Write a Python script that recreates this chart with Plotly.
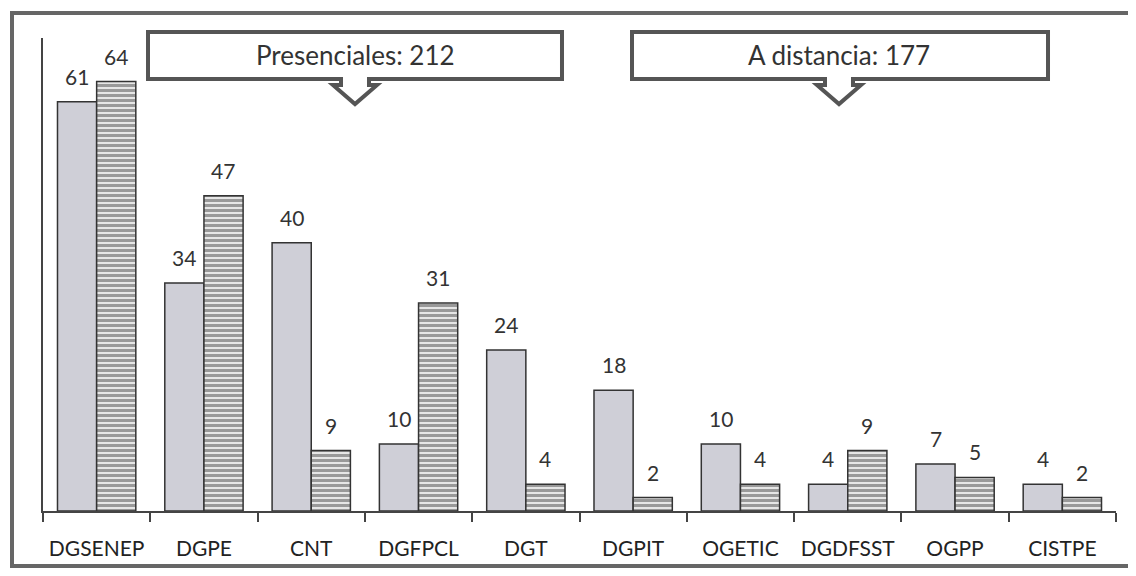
import plotly.graph_objects as go

categories = ["DGSENEP", "DGPE", "CNT", "DGFPCL", "DGT", "DGPIT", "OGETIC", "DGDFSST", "OGPP", "CISTPE"]
presenciales = [61, 34, 40, 10, 24, 18, 10, 4, 7, 4]
a_distancia = [64, 47, 9, 31, 4, 2, 4, 9, 5, 2]
callout_texts = ["Presenciales: 212", "A distancia: 177"]

# page body has an 8px margin: work in window pixels, convert to figure
OFF = 8
W, H = 1120, 560
ML, MT = 43 - OFF, 38 - OFF
PW = 1116 - 43
PH = 511 - 38
MR = W - ML - PW
MB = H - MT - PH

def px(x):
    return (x - OFF - ML) / PW

def py(y):
    return (MT + PH - (y - OFF)) / PH

FONT = "Lato"

fig = go.Figure()
fig.add_trace(go.Bar(
    x=categories, y=presenciales, name="Presenciales",
    marker=dict(color="#cfcfd7", line=dict(color="#333333", width=1.5)),
))
fig.add_trace(go.Bar(
    x=categories, y=a_distancia, name="A distancia",
    marker=dict(color="#ffffff",
                pattern=dict(shape="-", fgcolor="#333333", bgcolor="#ffffff", size=5, solidity=0.7),
                line=dict(color="#333333", width=1.5)),
))

annotations = []
for vals, shift in ((presenciales, -19.5), (a_distancia, 19.5)):
    for c, v in zip(categories, vals):
        annotations.append(dict(x=c, y=v, xref="x", yref="y", text=str(v), showarrow=False,
                                xanchor="center", yanchor="bottom", xshift=shift, yshift=11,
                                font=dict(size=21, color="#333333", family=FONT)))

shapes = []
shapes.append(dict(type="rect", xref="paper", yref="paper",
                   x0=px(12), x1=px(1150), y0=py(566), y1=py(13),
                   line=dict(color="#666666", width=4), fillcolor="rgba(0,0,0,0)", layer="below"))

def callout(x0, y0, x1, y1, cx, s=14, h=22, ds=6, dt=25):
    pts = [(x0, y0), (x1, y0), (x1, y1), (cx + s, y1), (cx + s, y1 + ds), (cx + h, y1 + ds),
           (cx, y1 + dt), (cx - h, y1 + ds), (cx - s, y1 + ds), (cx - s, y1), (x0, y1)]
    path = "M " + " L ".join(f"{px(a):.5f},{py(b):.5f}" for a, b in pts) + " Z"
    return dict(type="path", xref="paper", yref="paper", path=path,
                line=dict(color="#555555", width=4), fillcolor="#ffffff", layer="above")

boxes = [(148, 32, 562, 79, 355), (632, 32, 1048, 79, 839)]
for (x0, y0, x1, y1, cx), t in zip(boxes, callout_texts):
    shapes.append(callout(x0, y0, x1, y1, cx))
    annotations.append(dict(x=px(cx), y=py((y0 + y1) / 2), xref="paper", yref="paper",
                            xanchor="center", yanchor="middle",
                            text=t, showarrow=False, font=dict(size=26, color="#333333", family=FONT)))

fig.update_layout(
    width=W, height=H,
    margin=dict(l=ML, r=MR, t=MT, b=MB, autoexpand=False),
    paper_bgcolor="#ffffff", plot_bgcolor="#ffffff",
    barmode="group", bargap=0.27, bargroupgap=0,
    showlegend=False,
    shapes=shapes, annotations=annotations,
    font=dict(family=FONT, color="#222222"),
)
fig.update_xaxes(showline=True, linecolor="#444444", linewidth=1.5,
                 ticks="outside", ticklen=9, tickcolor="#444444", tickwidth=1.5,
                 tickson="boundaries", showgrid=False, tickangle=0, ticklabelstandoff=18,
                 tickfont=dict(size=21, color="#222222", family=FONT))
fig.update_yaxes(range=[0, 70.5], showline=True, linecolor="#444444", linewidth=1.5,
                 showticklabels=False, ticks="", showgrid=False, zeroline=False)

fig.write_html("out.html")
